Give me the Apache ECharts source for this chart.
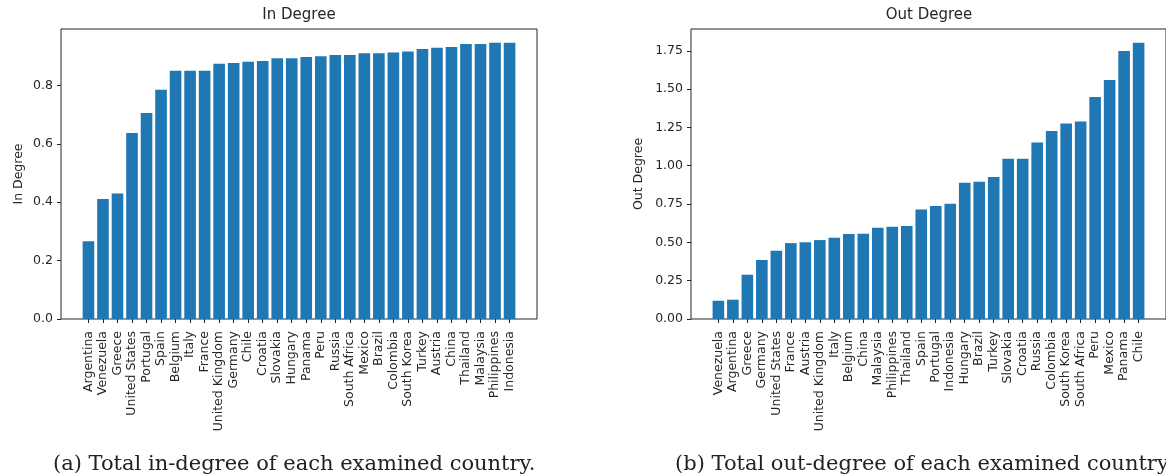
<!DOCTYPE html>
<html>
<head>
<meta charset="utf-8">
<script src="https://cdn.jsdelivr.net/npm/echarts@6/dist/echarts.min.js"></script>
<style>
  html, body { margin: 0; padding: 0; background: #fff; }
  #chart { width: 1166px; height: 474px; }
</style>
</head>
<body>
<div id="chart"></div>
<script>
// in-degree, sorted ascending
var inCountries = ['Argentina', 'Venezuela', 'Greece', 'United States', 'Portugal', 'Spain', 'Belgium', 'Italy',
  'France', 'United Kingdom', 'Germany', 'Chile', 'Croatia', 'Slovakia', 'Hungary', 'Panama', 'Peru', 'Russia',
  'South Africa', 'Mexico', 'Brazil', 'Colombia', 'South Korea', 'Turkey', 'Austria', 'China', 'Thailand',
  'Malaysia', 'Philippines', 'Indonesia']
var inValues = [0.266, 0.411, 0.430, 0.637, 0.706, 0.785, 0.850, 0.850, 0.850, 0.874, 0.877, 0.881, 0.884,
  0.893, 0.893, 0.897, 0.900, 0.904, 0.904, 0.910, 0.910, 0.913, 0.916, 0.925, 0.929, 0.932, 0.942, 0.942,
  0.946, 0.946]
var inTicks = [0, 0.2, 0.4, 0.6, 0.8]

// out-degree, sorted ascending
var outCountries = ['Venezuela', 'Argentina', 'Greece', 'Germany', 'United States', 'France', 'Austria',
  'United Kingdom', 'Italy', 'Belgium', 'China', 'Malaysia', 'Philippines', 'Thailand', 'Spain', 'Portugal',
  'Indonesia', 'Hungary', 'Brazil', 'Turkey', 'Slovakia', 'Croatia', 'Russia', 'Colombia', 'South Korea',
  'South Africa', 'Peru', 'Mexico', 'Panama', 'Chile']
var outValues = [0.119, 0.126, 0.289, 0.385, 0.446, 0.495, 0.500, 0.515, 0.530, 0.555, 0.556, 0.595, 0.602,
  0.607, 0.715, 0.737, 0.752, 0.889, 0.896, 0.926, 1.046, 1.046, 1.152, 1.226, 1.276, 1.289, 1.448, 1.559,
  1.748, 1.802]
var outTicks = [0, 0.25, 0.5, 0.75, 1.0, 1.25, 1.5, 1.75]

var FONT = 'DejaVu Sans'
var TXT = '#262626'
var BLUE = '#1f77b4'

function idx(arr) {
  return arr.map(function(v, i) { return i })
}

function makeX(gridIndex, names) {
  var n = names.length
  // matplotlib-like 5% margins around the bars
  var span = (n - 1) + 0.8
  return {
    gridIndex: gridIndex,
    type: 'value',
    min: -0.4 - 0.05 * span,
    max: n - 1 + 0.4 + 0.05 * span,
    axisLine: { show: false, onZero: false },
    splitLine: { show: false },
    axisTick: {
      show: true,
      length: 4,
      customValues: idx(names),
      lineStyle: { color: TXT, width: 1 }
    },
    axisLabel: {
      customValues: idx(names),
      rotate: 90,
      margin: 12,
      fontFamily: FONT,
      fontSize: 12.5,
      color: TXT,
      formatter: function(v) { return names[Math.round(v)] }
    }
  }
}

function makeY(gridIndex, values, ticks, digits, name, gap) {
  return {
    gridIndex: gridIndex,
    type: 'value',
    min: 0,
    max: Math.max.apply(null, values) * 1.05,
    name: name,
    nameLocation: 'middle',
    nameRotate: 90,
    nameGap: gap,
    nameTextStyle: { fontFamily: FONT, fontSize: 12.5, color: TXT },
    axisLine: { show: false, onZero: false },
    splitLine: { show: false },
    axisTick: {
      show: true,
      length: 4,
      customValues: ticks,
      lineStyle: { color: TXT, width: 1 }
    },
    axisLabel: {
      customValues: ticks,
      margin: 8,
      fontFamily: FONT,
      fontSize: 12.5,
      color: TXT,
      formatter: function(v) { return v.toFixed(digits) }
    }
  }
}

function makeBars(axisIndex, values) {
  return {
    type: 'bar',
    xAxisIndex: axisIndex,
    yAxisIndex: axisIndex,
    barWidth: '80%',
    itemStyle: { color: BLUE },
    silent: true,
    data: values.map(function(v, i) { return [i, v] })
  }
}

var titleStyle = { fontFamily: FONT, fontSize: 15, fontWeight: 'normal', color: TXT }
var captionStyle = { fontFamily: 'DejaVu Serif', fontSize: 21, fontWeight: 'normal', color: '#222' }

var chart = echarts.init(document.getElementById('chart'), null, { renderer: 'canvas' })
chart.setOption({
  animation: false,
  backgroundColor: '#fff',
  title: [
    { text: 'In Degree', left: 299, top: 8, padding: 0, textAlign: 'center', textStyle: titleStyle },
    { text: 'Out Degree', left: 929, top: 8, padding: 0, textAlign: 'center', textStyle: titleStyle },
    { text: '(a) Total in-degree of each examined country.', left: 53, top: 454, padding: 0, textStyle: captionStyle },
    { text: '(b) Total out-degree of each examined country.', left: 675, top: 454, padding: 0, textStyle: captionStyle }
  ],
  grid: [
    { left: 61, top: 29, width: 476, height: 290, show: true, borderColor: TXT, borderWidth: 1, backgroundColor: 'transparent' },
    { left: 691, top: 29, width: 476, height: 290, show: true, borderColor: TXT, borderWidth: 1, backgroundColor: 'transparent' }
  ],
  xAxis: [makeX(0, inCountries), makeX(1, outCountries)],
  yAxis: [
    makeY(0, inValues, inTicks, 1, 'In Degree', 36),
    makeY(1, outValues, outTicks, 2, 'Out Degree', 46)
  ],
  series: [makeBars(0, inValues), makeBars(1, outValues)]
})
</script>
</body>
</html>
